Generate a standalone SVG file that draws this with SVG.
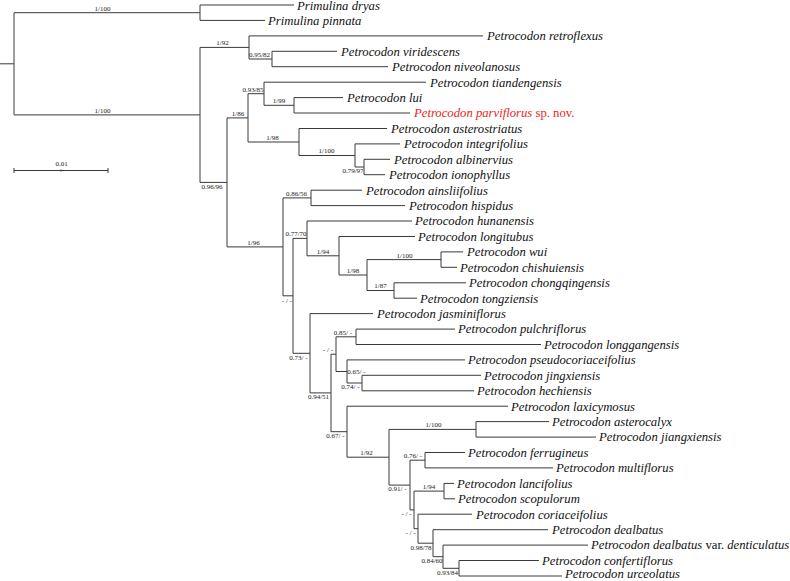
<svg xmlns="http://www.w3.org/2000/svg" width="790" height="581" viewBox="0 0 790 581">
<style>
.e{fill:none;stroke:#3a3a3a;stroke-width:1}
.tip{font-family:"Liberation Serif","Times New Roman",serif;font-style:italic;font-size:12.7px;fill:#111}
.red{fill:#ec2424}
.up{font-style:normal}
.sup{font-family:"Liberation Serif","Times New Roman",serif;font-size:7px;fill:#222;text-anchor:middle}
</style>
<rect width="790" height="581" fill="#fff"/>
<g id="connectors" class="e">
<path d="M0 63.8H14M14 12.7V114.9M14 12.7H200M14 114.9H200"/>
<path d="M200 5V20.4M200 5H294M200 20.4H265"/>
<path d="M200 47.4V182.4M200 47.4H249M200 182.4H227"/>
<path d="M249 35.9V59M249 35.9H483M249 59H272"/>
<path d="M272 51.3V66.7M272 51.3H337M272 66.7H388"/>
<path d="M227 117.9V246.9M227 117.9H248M227 246.9H283"/>
<path d="M248 93.7V142M248 93.7H264M248 142H299"/>
<path d="M264 82.2V105.3M264 82.2H426M264 105.3H294"/>
<path d="M294 97.6V113M294 97.6H343M294 113H410"/>
<path d="M299 128.5V155.5M299 128.5H387M299 155.5H355"/>
<path d="M355 143.9V167M355 143.9H400M355 167H364"/>
<path d="M364 159.3V174.7M364 159.3H390M364 174.7H385"/>
<path d="M283 197.9V295.8M283 197.9H311M283 295.8H293"/>
<path d="M311 190.2V205.6M311 190.2H362M311 205.6H405"/>
<path d="M293 238.4V353.3M293 238.4H307M293 353.3H310"/>
<path d="M307 221V255.8M307 221H412M307 255.8H339"/>
<path d="M339 236.5V275M339 236.5H415M339 275H367"/>
<path d="M367 259.6V290.5M367 259.6H441M367 290.5H394"/>
<path d="M441 251.9V267.3M441 251.9H463M441 267.3H457"/>
<path d="M394 282.8V298.2M394 282.8H466M394 298.2H417"/>
<path d="M310 313.6V392.9M310 313.6H373M310 392.9H331"/>
<path d="M331 354.2V431.7M331 354.2H336M331 431.7H347"/>
<path d="M336 336.8V371.5M336 336.8H356M336 371.5H347"/>
<path d="M356 329.1V344.5M356 329.1H455M356 344.5H541"/>
<path d="M347 359.9V383M347 359.9H465M347 383H362"/>
<path d="M362 375.3V390.8M362 375.3H481M362 390.8H474"/>
<path d="M347 406.2V457.2M347 406.2H508M347 457.2H389"/>
<path d="M389 429.4V485.1M389 429.4H476M389 485.1H410"/>
<path d="M476 421.6V437.1M476 421.6H549M476 437.1H596"/>
<path d="M410 460.2V509.9M410 460.2H425M410 509.9H414"/>
<path d="M425 452.5V467.9M425 452.5H465M425 467.9H553"/>
<path d="M414 491.1V528.7M414 491.1H444M414 528.7H418"/>
<path d="M444 483.4V498.8M444 483.4H454M444 498.8H455"/>
<path d="M418 514.2V543.2M418 514.2H472M418 543.2H433"/>
<path d="M433 529.7V556.7M433 529.7H548M433 556.7H443"/>
<path d="M443 545.1V568.3M443 545.1H588M443 568.3H459"/>
<path d="M459 560.5V576M459 560.5H539M459 576H562"/>
</g>
<g id="scalebar">
<path class="e" d="M14 170.5H108M14 168V173M108 168V173M61 169.5V171.5"/>
<text class="sup" x="61.5" y="166">0.01</text>
</g>
<g id="tips">
<g id="t-dryas"><text class="tip" x="297" y="10">Primulina dryas</text></g>
<g id="t-pinnata"><text class="tip" x="268" y="24.7">Primulina pinnata</text></g>
<g id="t-retroflexus"><text class="tip" x="487" y="40.2">Petrocodon retroflexus</text></g>
<g id="t-viridescens"><text class="tip" x="341" y="55.6">Petrocodon viridescens</text></g>
<g id="t-niveolanosus"><text class="tip" x="392" y="71">Petrocodon niveolanosus</text></g>
<g id="t-tiandengensis"><text class="tip" x="430" y="86.5">Petrocodon tiandengensis</text></g>
<g id="t-lui"><text class="tip" x="347" y="101.9">Petrocodon lui</text></g>
<g id="t-parviflorus"><text class="tip red" x="414" y="117.3">Petrocodon parviflorus<tspan class="up"> sp. nov.</tspan></text></g>
<g id="t-asterostriatus"><text class="tip" x="391" y="132.8">Petrocodon asterostriatus</text></g>
<g id="t-integrifolius"><text class="tip" x="404" y="148.2">Petrocodon integrifolius</text></g>
<g id="t-albinervius"><text class="tip" x="394" y="163.6">Petrocodon albinervius</text></g>
<g id="t-ionophyllus"><text class="tip" x="389" y="179">Petrocodon ionophyllus</text></g>
<g id="t-ainsliifolius"><text class="tip" x="366" y="194.5">Petrocodon ainsliifolius</text></g>
<g id="t-hispidus"><text class="tip" x="409" y="209.9">Petrocodon hispidus</text></g>
<g id="t-hunanensis"><text class="tip" x="415" y="225.3">Petrocodon hunanensis</text></g>
<g id="t-longitubus"><text class="tip" x="418" y="240.8">Petrocodon longitubus</text></g>
<g id="t-wui"><text class="tip" x="467" y="256.2">Petrocodon wui</text></g>
<g id="t-chishuiensis"><text class="tip" x="460" y="271.6">Petrocodon chishuiensis</text></g>
<g id="t-chongqingensis"><text class="tip" x="469" y="287.1">Petrocodon chongqingensis</text></g>
<g id="t-tongziensis"><text class="tip" x="420" y="302.5">Petrocodon tongziensis</text></g>
<g id="t-jasminiflorus"><text class="tip" x="377" y="317.9">Petrocodon jasminiflorus</text></g>
<g id="t-pulchriflorus"><text class="tip" x="458" y="333.4">Petrocodon pulchriflorus</text></g>
<g id="t-longgangensis"><text class="tip" x="544" y="348.8">Petrocodon longgangensis</text></g>
<g id="t-pseudocoriaceifolius"><text class="tip" x="468" y="364.2">Petrocodon pseudocoriaceifolius</text></g>
<g id="t-jingxiensis"><text class="tip" x="484" y="379.6">Petrocodon jingxiensis</text></g>
<g id="t-hechiensis"><text class="tip" x="477" y="395.1">Petrocodon hechiensis</text></g>
<g id="t-laxicymosus"><text class="tip" x="511" y="410.5">Petrocodon laxicymosus</text></g>
<g id="t-asterocalyx"><text class="tip" x="552" y="425.9">Petrocodon asterocalyx</text></g>
<g id="t-jiangxiensis"><text class="tip" x="599" y="441.4">Petrocodon jiangxiensis</text></g>
<g id="t-ferrugineus"><text class="tip" x="468" y="456.8">Petrocodon ferrugineus</text></g>
<g id="t-multiflorus"><text class="tip" x="556" y="472.2">Petrocodon multiflorus</text></g>
<g id="t-lancifolius"><text class="tip" x="457" y="487.7">Petrocodon lancifolius</text></g>
<g id="t-scopulorum"><text class="tip" x="458" y="503.1">Petrocodon scopulorum</text></g>
<g id="t-coriaceifolius"><text class="tip" x="476" y="518.5">Petrocodon coriaceifolius</text></g>
<g id="t-dealbatus"><text class="tip" x="552" y="534">Petrocodon dealbatus</text></g>
<g id="t-denticulatus"><text class="tip" x="591" y="549.4">Petrocodon dealbatus <tspan class="up">var.</tspan> denticulatus</text></g>
<g id="t-confertiflorus"><text class="tip" x="542" y="564.8">Petrocodon confertiflorus</text></g>
<g id="t-urceolatus"><text class="tip" x="565" y="578.3">Petrocodon urceolatus</text></g>
</g>
<g id="supports">
<g id="n-primulina"><text class="sup" x="102.5" y="10.5">1/100</text></g>
<g id="n-ingroup"><text class="sup" x="102.5" y="112.7">1/100</text></g>
<g id="n-retro"><text class="sup" x="222.5" y="45.3">1/92</text></g>
<g id="n-virid"><text class="sup" x="259.5" y="57">0.95/82</text></g>
<g id="n-0.96"><text class="sup" x="212" y="188.6">0.96/96</text></g>
<g id="n-186"><text class="sup" x="238" y="115.8">1/86</text></g>
<g id="n-093"><text class="sup" x="253" y="91.6">0.93/85</text></g>
<g id="n-199"><text class="sup" x="279" y="103.2">1/99</text></g>
<g id="n-198a"><text class="sup" x="272.5" y="139.9">1/98</text></g>
<g id="n-1100a"><text class="sup" x="326.5" y="153.4">1/100</text></g>
<g id="n-079"><text class="sup" x="353" y="173.4">0.79/97</text></g>
<g id="n-196"><text class="sup" x="253.5" y="244.8">1/96</text></g>
<g id="n-086"><text class="sup" x="296.5" y="195.8">0.86/56</text></g>
<g id="n-dash-a"><text class="sup" x="287" y="302.5">- / -</text></g>
<g id="n-077"><text class="sup" x="296" y="236.3">0.77/70</text></g>
<g id="n-194a"><text class="sup" x="323" y="253.7">1/94</text></g>
<g id="n-198b"><text class="sup" x="353" y="272.9">1/98</text></g>
<g id="n-1100b"><text class="sup" x="404.5" y="257.5">1/100</text></g>
<g id="n-187"><text class="sup" x="380.5" y="288.4">1/87</text></g>
<g id="n-073"><text class="sup" x="298.5" y="359.6">0.73/ -</text></g>
<g id="n-094"><text class="sup" x="318.5" y="399.2">0.94/51</text></g>
<g id="n-dash-b"><text class="sup" x="328" y="352.1">- / -</text></g>
<g id="n-085"><text class="sup" x="343" y="334.7">0.85/ -</text></g>
<g id="n-065"><text class="sup" x="356.5" y="373.6">0.65/ -</text></g>
<g id="n-074"><text class="sup" x="350.5" y="389.3">0.74/ -</text></g>
<g id="n-067"><text class="sup" x="335.5" y="438">0.67/ -</text></g>
<g id="n-192b"><text class="sup" x="366.5" y="455.1">1/92</text></g>
<g id="n-1100c"><text class="sup" x="433.5" y="427.3">1/100</text></g>
<g id="n-091"><text class="sup" x="397.5" y="491.4">0.91/ -</text></g>
<g id="n-076"><text class="sup" x="413" y="458.1">0.76/ -</text></g>
<g id="n-194b"><text class="sup" x="429" y="489">1/94</text></g>
<g id="n-dash-c"><text class="sup" x="406.5" y="516.2">- / -</text></g>
<g id="n-dash-d"><text class="sup" x="410.5" y="535">- / -</text></g>
<g id="n-098"><text class="sup" x="421" y="549.5">0.98/78</text></g>
<g id="n-084"><text class="sup" x="432" y="563">0.84/60</text></g>
<g id="n-093b"><text class="sup" x="447.5" y="574.6">0.93/84</text></g>
</g>
</svg>
